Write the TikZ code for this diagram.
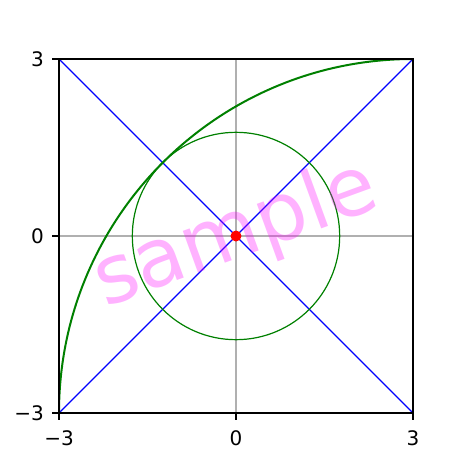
\documentclass[tikz,border=0pt]{standalone}
\usepackage{fontspec}
\setmainfont{DejaVu Sans}
\usetikzlibrary{positioning}
\definecolor{gridgray}{HTML}{B0B0B0}
\definecolor{plotgreen}{HTML}{008000}
\definecolor{wmarkpink}{HTML}{FF00FF}
\begin{document}
\begin{tikzpicture}[x=59pt,y=59pt,
 every node/.style={font=\fontsize{20}{24}\selectfont,inner sep=0pt},
 grid/.style={draw=gridgray,line width=1.6pt},
 spine/.style={draw=black,line width=1.6pt,line cap=rect},
 tick/.style={draw=black,line width=1.6pt},
 diag/.style={draw=blue,line width=1.3pt},
 curve/.style={draw=plotgreen,line width=2pt},
 ring/.style={draw=plotgreen,line width=1.2pt},
 origindot/.style={fill=red},
 wmark/.style={font=\fontsize{81}{81}\selectfont,text=wmarkpink,text opacity=0.3,rotate=20}]

\useasboundingbox (-4,-4) rectangle (4,4);

\draw[grid] (0,-3)--(0,3);
\draw[grid] (-3,0)--(3,0);

\draw[diag] (-3,-3)--(3,3);
\draw[diag] (-3,3)--(3,-3);
\draw[ring] (0,0) circle[radius={6-3*sqrt(2)}];
\draw[curve] (-3,-3) arc[start angle=180,end angle=90,radius=6];
\fill[origindot] (0,0) circle[radius=5.5pt];

\draw[spine] (-3,-3) rectangle (3,3);
\foreach \v in {-3,0,3} {
 \draw[tick] (\v,-3)--++(0,-7pt);
 \draw[tick] (-3,\v)--++(-7pt,0);
}
\node[anchor=north] (xa) at (-3,-3.288) {−3};
\node[anchor=north] (xb) at (0,-3.288) {0};
\node[anchor=north] (xc) at (3,-3.288) {3};
\node[anchor=east] (ya) at (-3.254,-3) {−3};
\node[anchor=east] (yb) at (-3.254,0) {0};
\node[anchor=east] (yc) at (-3.254,3) {3};

\node[wmark] (sample) at (0,0) {sample};
\end{tikzpicture}
\end{document}
